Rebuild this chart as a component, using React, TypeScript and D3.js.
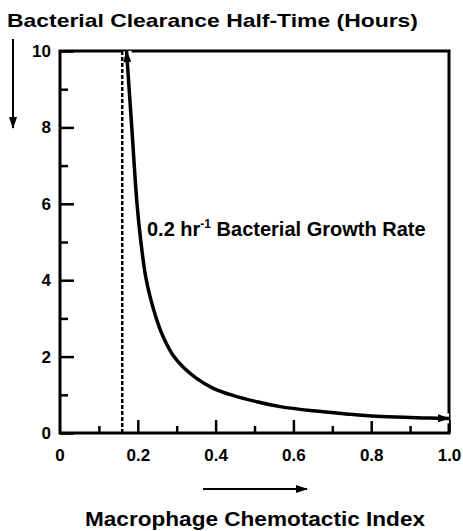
import { useEffect, useRef } from 'react';
import * as d3 from 'd3';

// curve: macrophage chemotactic index vs clearance half-time
const chemotacticIndex = [0.171, 0.1845, 0.198, 0.208, 0.221, 0.24, 0.257, 0.274, 0.291, 0.317, 0.351, 0.394, 0.446, 0.506, 0.566, 0.651, 0.737, 0.814, 0.9, 0.95, 1.0];
const halfTimeHours = [10, 8, 6, 5, 4.05, 3.25, 2.72, 2.33, 2.03, 1.72, 1.43, 1.17, 0.98, 0.82, 0.69, 0.58, 0.5, 0.44, 0.405, 0.39, 0.38];

const thresholdIndex = 0.16;

const xMajorTicks = [0.2, 0.4, 0.6, 0.8, 1.0];
const xMinorTicks = [0.1, 0.3, 0.5, 0.7, 0.9];
const xTickLabels = ['0.2', '0.4', '0.6', '0.8', '1.0'];
const yMajorTicks = [0, 2, 4, 6, 8, 10];
const yMinorTicks = [1, 3, 5, 7, 9];

const FONT = "'Liberation Sans', Arial, sans-serif";

export default function App() {
    const ref = useRef<SVGSVGElement>(null);

    useEffect(() => {
        const width = 463;
        const height = 531;
        const left = 60, right = 449, top = 51, bottom = 433;

        const svg = d3.select(ref.current);
        svg.selectAll('*').remove();
        svg.attr('width', width).attr('height', height);

        const defs = svg.append('defs');
        defs.append('marker')
            .attr('id', 'head')
            .attr('viewBox', '0 0 12 8')
            .attr('markerUnits', 'userSpaceOnUse')
            .attr('markerWidth', 14)
            .attr('markerHeight', 8)
            .attr('refX', 11)
            .attr('refY', 4)
            .attr('orient', 'auto-start-reverse')
            .append('path')
            .attr('d', 'M0,0 L12,4 L0,8 Z')
            .attr('fill', '#000');

        const x = d3.scaleLinear().domain([0, 1]).range([left, right]);
        const y = d3.scaleLinear().domain([0, 10]).range([bottom, top]);

        // frame
        svg.append('rect')
            .attr('x', x(0)).attr('y', y(10))
            .attr('width', x(1) - x(0)).attr('height', y(0) - y(10))
            .attr('fill', 'none').attr('stroke', '#000').attr('stroke-width', 3);

        // x axis ticks (pointing up into the plot)
        const xMajor = d3.axisBottom(x).tickValues(xMajorTicks)
            .tickSize(-13).tickPadding(16)
            .tickFormat((d, i) => xTickLabels[i]);
        const gx = svg.append('g').attr('transform', `translate(0,${bottom})`).call(xMajor);
        gx.append('text').attr('x', x(0)).attr('y', 16).attr('dy', '0.71em').attr('text-anchor', 'middle').text('0');
        const xMinor = d3.axisBottom(x).tickValues(xMinorTicks).tickSize(-7).tickFormat(() => '');
        svg.append('g').attr('transform', `translate(0,${bottom})`).call(xMinor);

        // y axis ticks (pointing right into the plot)
        const yMajor = d3.axisLeft(y).tickValues(yMajorTicks).tickSize(-14).tickPadding(9);
        svg.append('g').attr('transform', `translate(${left},0)`).call(yMajor);
        const yMinor = d3.axisLeft(y).tickValues(yMinorTicks).tickSize(-8).tickFormat(() => '');
        svg.append('g').attr('transform', `translate(${left},0)`).call(yMinor);

        svg.selectAll('.domain').remove();
        svg.selectAll('.tick line').attr('stroke', '#000').attr('stroke-width', 2.5);
        svg.selectAll('g text')
            .attr('fill', '#000')
            .style('font-family', FONT)
            .style('font-weight', 'bold')
            .style('font-size', '17px');

        const points: [number, number][] = chemotacticIndex.map((c, i) => [c, halfTimeHours[i]]);
        const line = d3.line<[number, number]>()
            .x(d => x(d[0]))
            .y(d => y(d[1]))
            .curve(d3.curveCatmullRom.alpha(0.5));

        // white halo so the frame breaks where the arrows touch it
        svg.append('path')
            .attr('d', line(points))
            .attr('fill', 'none').attr('stroke', '#fff').attr('stroke-width', 10);

        // dashed threshold
        svg.append('line')
            .attr('x1', x(thresholdIndex)).attr('x2', x(thresholdIndex))
            .attr('y1', y(0)).attr('y2', y(10))
            .attr('stroke', '#000').attr('stroke-width', 2.5)
            .attr('stroke-dasharray', '4,2');

        svg.append('path')
            .attr('d', line(points))
            .attr('fill', 'none').attr('stroke', '#000').attr('stroke-width', 3.5)
            .attr('marker-start', 'url(#head)')
            .attr('marker-end', 'url(#head)');

        // annotation
        const note = svg.append('text')
            .attr('x', 147).attr('y', 236)
            .attr('fill', '#000')
            .style('font-family', FONT).style('font-weight', 'bold').style('font-size', '20px');
        note.append('tspan').text('0.2 hr');
        note.append('tspan').attr('dy', -8).style('font-size', '12px').text('-1');
        note.append('tspan').attr('dy', 8).text(' Bacterial Growth Rate');

        // titles
        svg.append('text')
            .attr('x', 7).attr('y', 27)
            .attr('textLength', 411).attr('lengthAdjust', 'spacingAndGlyphs')
            .style('font-family', FONT).style('font-weight', 'bold').style('font-size', '19px')
            .text('Bacterial Clearance Half-Time (Hours)');

        svg.append('text')
            .attr('x', 85).attr('y', 526)
            .attr('textLength', 340).attr('lengthAdjust', 'spacingAndGlyphs')
            .style('font-family', FONT).style('font-weight', 'bold').style('font-size', '20px')
            .text('Macrophage Chemotactic Index');

        // direction arrows
        svg.append('line')
            .attr('x1', 13).attr('x2', 13).attr('y1', 39).attr('y2', 128)
            .attr('stroke', '#000').attr('stroke-width', 2)
            .attr('marker-end', 'url(#head)');

        svg.append('line')
            .attr('x1', 203).attr('x2', 307).attr('y1', 489).attr('y2', 489)
            .attr('stroke', '#000').attr('stroke-width', 2)
            .attr('marker-end', 'url(#head)');
    }, []);

    return (
        <svg ref={ref} style={{ position: 'absolute', left: 0, top: 0, background: '#fff' }} />
    );
}
